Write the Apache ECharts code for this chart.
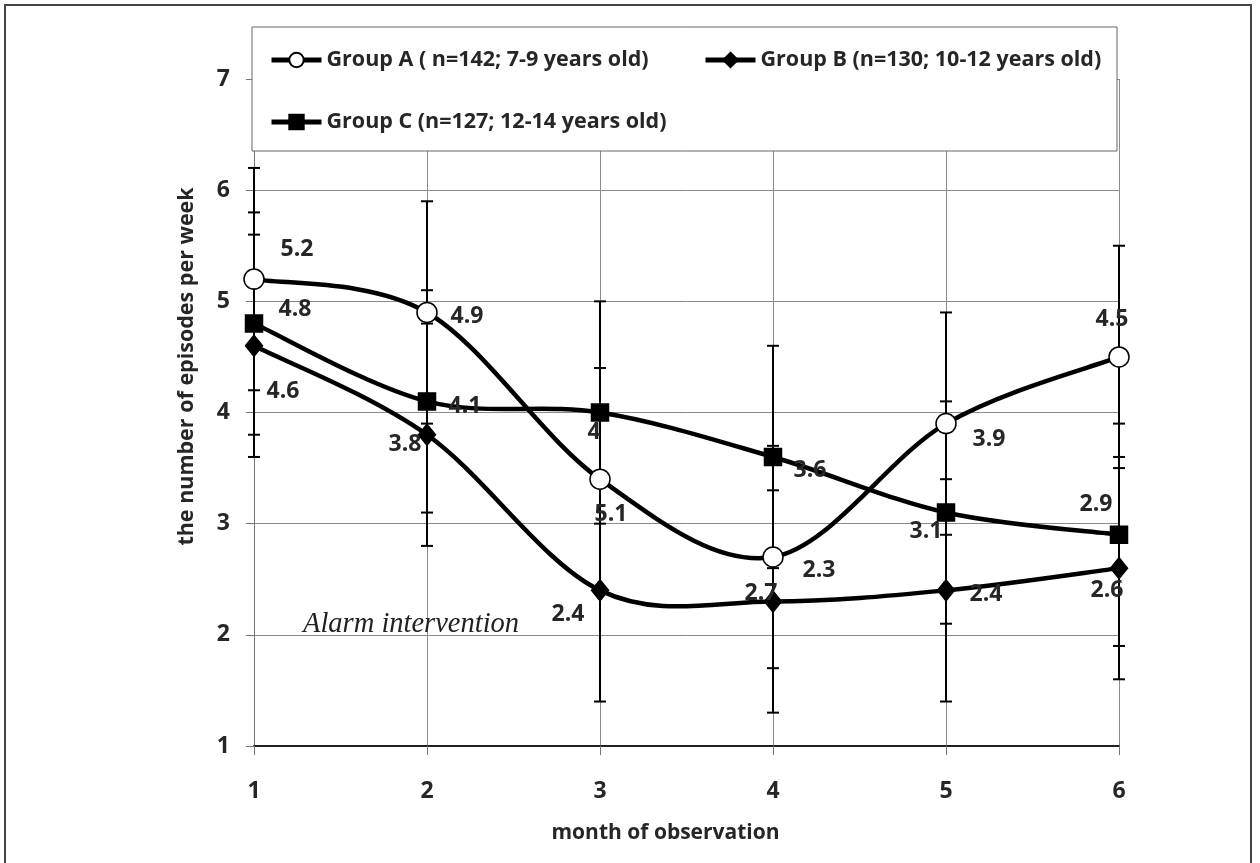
<!DOCTYPE html>
<html>
<head>
<meta charset="utf-8">
<script src="https://cdn.jsdelivr.net/npm/echarts@6/dist/echarts.min.js"></script>
<style>html,body{margin:0;padding:0;background:#fff;}#c{width:1260px;height:863px;}</style>
</head>
<body>
<div id="c"></div>
<script>
// ---- data ----
const months = ['1', '2', '3', '4', '5', '6'];
const nameA = 'Group A ( n=142; 7-9 years old)';
const nameB = 'Group B (n=130; 10-12 years old)';
const nameC = 'Group C (n=127; 12-14 years old)';
const valuesA = [5.2, 4.9, 3.4, 2.7, 3.9, 4.5];
const valuesB = [4.6, 3.8, 2.4, 2.3, 2.4, 2.6];
const valuesC = [4.8, 4.1, 4.0, 3.6, 3.1, 2.9];
const errA = [1, 1, 1, 1, 1, 1];
const errB = [1, 1, 1, 1, 1, 1];
const errC = [1, 1, 1, 1, 1, 1];
// label texts as printed in the original figure
const labelsA = ['5.2', '4.9', '5.1', '2.3', '3.9', '4.5'];
const labelsB = ['4.6', '3.8', '2.4', '2.7', '2.4', '2.6'];
const labelsC = ['4.8', '4.1', '4', '3.6', '3.1', '2.9'];
const yTicks = { min: 1, max: 7, interval: 1 };

// ---- layout (label offsets in px) ----
const offA = [[43, -30], [40, 4], [11, 35], [46, 13], [43, 16], [-7, -37]];
const offB = [[29, 46], [-22, 10], [-32, 24], [-12, -8], [40, 4], [-12, 22]];
const offC = [[41, -14], [38, 5], [-6, 20], [37, 13], [-20, 19], [-23, -30]];

const TXT = '#262626';
const FONT = 'Open Sans';

function pts(vals, labels, offs) {
  return vals.map((v, i) => ({
    value: v,
    label: { formatter: labels[i], offset: offs[i] }
  }));
}
function errSeries(vals, errs) {
  return {
    type: 'custom',
    z: 1,
    silent: true,
    data: vals.map((v, i) => [i, v - errs[i], v + errs[i]]),
    encode: { x: 0, y: [1, 2] },
    renderItem: function (params, api) {
      const lo = api.coord([api.value(0), api.value(1)]);
      const hi = api.coord([api.value(0), api.value(2)]);
      const w = 6;
      const st = { stroke: '#000', lineWidth: 2 };
      return {
        type: 'group',
        children: [
          { type: 'line', shape: { x1: lo[0], y1: lo[1], x2: hi[0], y2: hi[1] }, style: st },
          { type: 'line', shape: { x1: lo[0] - w, y1: lo[1], x2: lo[0] + w, y2: lo[1] }, style: st },
          { type: 'line', shape: { x1: hi[0] - w, y1: hi[1], x2: hi[0] + w, y2: hi[1] }, style: st }
        ]
      };
    }
  };
}
// Excel-style smoothed curve (Catmull-Rom bezier) through the library's coordinates
function curveSeries(vals) {
  return {
    type: 'custom',
    z: 2,
    silent: true,
    data: vals.map((v, i) => [i, v]),
    encode: { x: 0, y: 1 },
    renderItem: function (params, api) {
      const i = params.dataIndex;
      const n = vals.length;
      if (i >= n - 1) return null;
      const P = (k) => api.coord([Math.max(0, Math.min(n - 1, k)), vals[Math.max(0, Math.min(n - 1, k))]]);
      const p0 = P(i - 1), p1 = P(i), p2 = P(i + 1), p3 = P(i + 2);
      const t = 1 / 6;
      return {
        type: 'bezierCurve',
        shape: {
          x1: p1[0], y1: p1[1], x2: p2[0], y2: p2[1],
          cpx1: p1[0] + (p2[0] - p0[0]) * t, cpy1: p1[1] + (p2[1] - p0[1]) * t,
          cpx2: p2[0] - (p3[0] - p1[0]) * t, cpy2: p2[1] - (p3[1] - p1[1]) * t
        },
        style: { stroke: '#000', lineWidth: 4.5, fill: null, lineCap: 'round' }
      };
    }
  };
}
const labelBase = {
  show: true, position: 'inside', fontFamily: FONT, fontWeight: 'bold',
  fontSize: 23, color: TXT
};
function markerSeries(name, vals, labels, offs, symbol, size, fill) {
  return {
    name: name,
    type: 'line',
    z: 3,
    symbol: symbol,
    symbolSize: size,
    showAllSymbol: true,
    data: pts(vals, labels, offs),
    lineStyle: { color: '#000', width: 0, opacity: 0 },
    itemStyle: { color: fill, borderColor: '#000', borderWidth: 1.5 },
    label: labelBase,
    emphasis: { disabled: true }
  };
}
const legendCommon = {
  orient: 'horizontal', z: 200, itemWidth: 50, itemHeight: 18,
  lineStyle: { color: '#000', width: 5, opacity: 1 },
  textStyle: { fontFamily: FONT, fontWeight: 'bold', fontSize: 21.5, color: TXT },
  selectedMode: false
};

const chart = echarts.init(document.getElementById('c'), null, { renderer: 'canvas' });
chart.setOption({
  animation: false,
  backgroundColor: '#fff',
  grid: { left: 254, right: 141, top: 79, bottom: 117 },
  legend: [
    Object.assign({}, legendCommon, { data: [nameA], left: 264, top: 44 }),
    Object.assign({}, legendCommon, { data: [nameB], left: 698, top: 44 }),
    Object.assign({}, legendCommon, { data: [nameC], left: 264, top: 106 })
  ],
  xAxis: {
    type: 'category',
    data: months,
    boundaryGap: false,
    name: 'month of observation',
    nameLocation: 'middle',
    nameGap: 77,
    nameTextStyle: { fontFamily: FONT, fontWeight: 'bold', fontSize: 21, color: TXT, padding: [0, 42, 0, 0] },
    axisLine: { lineStyle: { color: '#222', width: 2 } },
    axisTick: { show: true, length: 9, lineStyle: { color: '#777', width: 1 } },
    axisLabel: { margin: 34, fontFamily: FONT, fontWeight: 'bold', fontSize: 23, color: TXT },
    splitLine: { show: true, lineStyle: { color: '#8a8a8a', width: 1 } }
  },
  yAxis: {
    type: 'value',
    min: yTicks.min, max: yTicks.max, interval: yTicks.interval,
    name: 'the number of episodes per week',
    nameLocation: 'middle',
    nameGap: 56,
    nameTextStyle: { fontFamily: FONT, fontWeight: 'bold', fontSize: 21.5, color: TXT, padding: [0, 0, 0, 92] },
    axisLine: { show: true, lineStyle: { color: '#777', width: 1 } },
    axisTick: { show: true, length: 8, lineStyle: { color: '#777', width: 1 } },
    axisLabel: { margin: 24, fontFamily: FONT, fontWeight: 'bold', fontSize: 23, color: TXT },
    splitLine: { show: true, lineStyle: { color: '#8a8a8a', width: 1 } }
  },
  graphic: [
    { type: 'rect', z: -10, silent: true, shape: { x: 5, y: 5, width: 1246, height: 880 },
      style: { fill: 'none', stroke: '#444', lineWidth: 2 } },
    { type: 'rect', z: 100, silent: true, shape: { x: 252, y: 27, width: 865, height: 124 },
      style: { fill: '#fff', stroke: '#666', lineWidth: 1 } },
    { type: 'text', z: 50, silent: true, left: 303, top: 610,
      style: { text: 'Alarm intervention', fontFamily: 'Liberation Serif', fontStyle: 'italic',
               fontSize: 28.5, fill: '#222' } }
  ],
  series: [
    errSeries(valuesA, errA),
    errSeries(valuesB, errB),
    errSeries(valuesC, errC),
    curveSeries(valuesA),
    curveSeries(valuesB),
    curveSeries(valuesC),
    markerSeries(nameA, valuesA, labelsA, offA, 'circle', 20, '#fff'),
    markerSeries(nameB, valuesB, labelsB, offB, 'diamond', [17, 21], '#000'),
    markerSeries(nameC, valuesC, labelsC, offC, 'rect', 17, '#000')
  ]
});
</script>
</body>
</html>
